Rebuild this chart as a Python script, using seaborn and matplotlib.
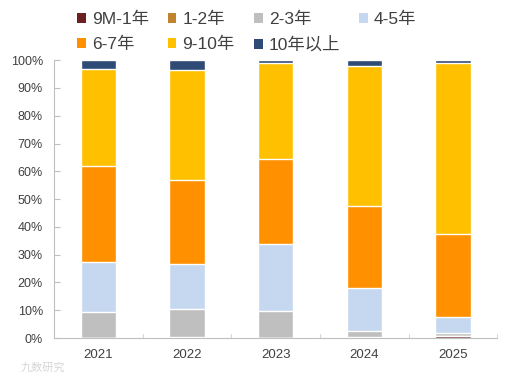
import numpy as np
import pandas as pd
import matplotlib
matplotlib.use('Agg')
import matplotlib.pyplot as plt
import seaborn as sns
from matplotlib.patches import Patch
from matplotlib.ticker import PercentFormatter

years = ['2021', '2022', '2023', '2024', '2025']
groups = ['9M-1年', '1-2年', '2-3年', '4-5年', '6-7年', '9-10年', '10年以上']
colors = ['#6B2121', '#C0832F', '#BFBFBF', '#C5D8F0', '#FF9000', '#FFC000', '#2E4A75']

m9_1 = [0.0, 0.0, 0.0, 0.0, 0.6]
y1_2 = [0.0, 0.5, 0.0, 0.3, 0.3]
y2_3 = [9.4, 10.0, 9.6, 2.3, 0.8]
y4_5 = [17.9, 16.1, 24.2, 15.4, 5.7]
y6_7 = [34.6, 30.2, 30.6, 29.5, 30.0]
y9_10 = [34.9, 39.5, 34.6, 50.4, 61.4]
y10p = [3.2, 3.7, 1.0, 2.1, 1.2]

sns.set_style('white')
plt.rcParams['font.family'] = ['Liberation Sans', 'Noto Sans CJK SC']

series = [m9_1, y1_2, y2_3, y4_5, y6_7, y9_10, y10p]
cum = np.cumsum(np.array(series), axis=0)

fig = plt.figure(figsize=(5.11, 3.76), dpi=100)
ax = fig.add_axes([0.106, 0.101, 0.867, 0.739])

# draw cumulative totals from the top down so each segment shows
for i in range(len(groups) - 1, -1, -1):
    df = pd.DataFrame({'year': years, 'v': cum[i]})
    sns.barplot(data=df, x='year', y='v', color=colors[i], width=0.4,
                saturation=1, ax=ax)

ax.set_ylim(0, 100)
ax.set_xlim(-0.5, 4.5)
ax.yaxis.set_major_formatter(PercentFormatter(decimals=0))
ax.set_yticks(range(0, 101, 10))
ax.set_xlabel('')
ax.set_ylabel('')
for s in ['top', 'right']:
    ax.spines[s].set_visible(False)
for s in ['left', 'bottom']:
    ax.spines[s].set_color('#BFBFBF')
ax.tick_params(axis='both', colors='#404040')
ax.tick_params(axis='y', length=4, color='#BFBFBF', direction='in', left=True,
               pad=8, labelsize=9)
ax.tick_params(axis='x', length=0, pad=8, labelsize=9.5)
for xb in [0.5, 1.5, 2.5, 3.5, 4.5]:
    ax.plot([xb, xb], [0, 1.5], color='#D9D9D9', lw=0.8, clip_on=False)

# reorder so the legend fills row by row
order = [0, 4, 1, 5, 2, 6, 3]
handles = [Patch(facecolor=colors[k], edgecolor='none') for k in order]
labels = [groups[k] for k in order]
fig.legend(handles, labels, loc='upper left', bbox_to_anchor=(0.12, 1.01),
           ncol=4, frameon=False, fontsize=12.5, handlelength=0.5,
           handleheight=0.5, handletextpad=0.35, columnspacing=1.1,
           labelspacing=0.55, labelcolor='#404040')

fig.text(0.04, 0.015, '九数研究', color='#D6D6D6', fontsize=8)

fig.savefig('out.png', dpi=100)
